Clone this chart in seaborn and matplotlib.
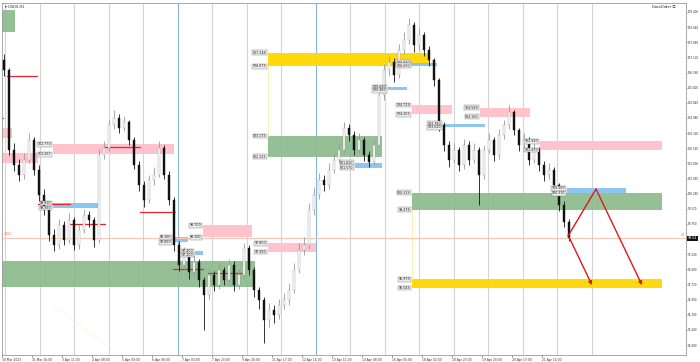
import matplotlib
matplotlib.use("Agg")
import matplotlib.pyplot as plt
import numpy as np
import pandas as pd
import seaborn as sns

# ---------------- data ----------------
first_open = 106.99
closes = [106.49, 102.47, 101.72, 101.22, 101.97, 102.97, 101.47, 100.21, 99.46, 98.20,
          97.70, 98.70, 97.95, 98.96, 97.70, 98.45, 99.21, 98.96, 97.95, 102.22,
          102.57, 103.73, 104.08, 103.57, 103.88, 102.97, 101.72, 100.71, 99.96, 100.96,
          101.22, 102.57, 101.22, 99.96, 97.70, 96.70, 97.20, 96.35, 96.85, 95.94,
          95.19, 96.19, 95.69, 96.45, 95.94, 96.70, 95.69, 96.19, 97.55, 96.45,
          95.44, 94.94, 93.94, 94.44, 94.19, 94.69, 94.94, 95.44, 96.45, 97.45,
          97.70, 99.46, 100.21, 100.96, 100.71, 101.47, 101.97, 102.47, 103.57, 103.22,
          102.47, 102.97, 102.22, 101.87, 102.72, 105.23, 106.49, 106.89, 106.24, 107.49,
          107.99, 108.75, 107.74, 108.24, 107.49, 106.99, 105.98, 103.73, 102.72, 101.97,
          102.47, 101.72, 102.72, 101.97, 102.47, 101.22, 102.47, 102.97, 102.22, 103.22,
          103.73, 104.38, 103.47, 102.72, 102.97, 101.97, 102.47, 101.72, 101.22, 101.47,
          100.71, 99.71, 98.86, 98.04]
highs = [107.30, 106.60, 102.80, 102.00, 102.30, 103.30, 103.10, 101.70, 100.50, 99.60,
         98.50, 99.00, 98.90, 99.30, 99.10, 98.70, 99.50, 99.40, 99.10, 102.50,
         102.90, 104.00, 104.50, 104.30, 104.20, 104.00, 103.10, 101.90, 100.90, 101.20,
         101.60, 102.90, 102.70, 101.40, 100.10, 97.90, 97.60, 97.40, 97.20, 97.00,
         96.10, 96.50, 96.40, 96.80, 96.60, 97.00, 96.90, 96.50, 97.80, 97.70,
         96.60, 95.60, 95.10, 94.80, 94.70, 95.00, 95.30, 95.80, 96.80, 97.80,
         98.10, 99.80, 100.60, 101.30, 101.20, 101.80, 102.30, 102.80, 103.90, 103.80,
         103.40, 103.30, 103.10, 102.40, 103.00, 105.60, 106.80, 107.20, 107.10, 107.80,
         108.40, 109.10, 108.90, 108.60, 108.40, 107.70, 107.10, 106.10, 103.90, 102.90,
         102.80, 102.60, 103.00, 102.90, 102.80, 102.60, 102.70, 103.30, 103.10, 103.50,
         104.00, 104.73, 104.50, 103.60, 103.30, 103.10, 102.80, 102.60, 101.90, 101.80,
         101.60, 100.80, 99.90, 99.00]
lows = [106.20, 102.20, 101.40, 100.90, 101.00, 101.80, 101.20, 99.90, 99.20, 97.90,
        97.40, 97.50, 97.70, 97.80, 97.45, 97.50, 98.30, 98.60, 97.60, 97.80,
        102.00, 102.40, 103.50, 103.30, 103.40, 102.70, 101.50, 100.40, 99.60, 99.80,
        100.70, 101.10, 101.00, 99.70, 97.40, 96.40, 96.50, 96.00, 96.10, 95.60,
        93.43, 95.00, 95.40, 95.50, 95.70, 95.80, 95.40, 95.50, 96.00, 96.20,
        95.10, 94.50, 92.78, 93.60, 93.80, 94.00, 94.50, 94.70, 95.30, 96.30,
        97.20, 97.50, 99.20, 100.00, 100.40, 100.50, 101.30, 101.80, 102.30, 102.90,
        102.20, 102.30, 101.90, 101.60, 101.70, 102.60, 105.00, 106.20, 105.90, 106.10,
        107.30, 107.80, 107.40, 107.50, 107.20, 106.70, 105.70, 103.40, 102.40, 101.60,
        101.80, 101.40, 101.50, 101.70, 101.80, 99.71, 101.00, 102.30, 101.90, 102.00,
        103.00, 103.50, 103.20, 102.40, 102.50, 101.70, 101.80, 101.40, 100.90, 101.00,
        100.40, 99.40, 98.60, 97.90]

date_labels = ["30 Mar 2023", "31 Mar 16:00", "3 Apr 11:00", "4 Apr 08:00", "5 Apr 09:00",
               "6 Apr 06:00", "7 Apr 03:00", "7 Apr 23:00", "9 Apr 20:00", "11 Apr 17:00",
               "12 Apr 14:00", "13 Apr 11:00", "14 Apr 08:00", "16 Apr 05:00", "18 Apr 02:00",
               "18 Apr 23:00", "19 Apr 20:00", "20 Apr 17:00", "21 Apr 14:00"]
price_ticks = ["92.680", "93.440", "94.200", "94.960", "95.720", "96.480", "97.240", "98.000",
               "98.760", "99.520", "100.280", "101.040", "101.800", "102.560", "103.320",
               "104.080", "104.840", "105.600", "106.360", "107.120", "107.880", "108.640",
               "109.400"]

# zones: kind, x0, x1 (bar index), top, bottom, show labels
zone_kind = ["green", "pink", "pink", "pink", "blue", "blue", "blue", "pink", "green",
             "pink", "gold", "green", "blue", "blue", "blue", "pink", "blue", "pink",
             "pink", "green", "blue", "gold"]
zone_x0 = [-0.8, -0.8, -0.8, 9.8, 9.8, 33.8, 38.2, 39.8, -0.8,
           52.8, 52.8, 52.8, 70.2, 81.6, 76.8, 81.6, 87.8, 95.2,
           107.2, 81.6, 112.6, 81.6]
zone_x1 = [2.2, 1.6, 6.8, 34.0, 19.2, 36.8, 39.8, 49.6, 50.2,
           62.4, 85.2, 75.6, 75.6, 86.6, 80.6, 89.6, 96.2, 105.2,
           131.6, 131.6, 124.4, 131.6]
zone_top = [109.50, 103.57, 102.32, 102.770, 99.810, 98.100, 97.400, 98.700, 96.900,
            97.800, 107.348, 103.173, 101.820, 106.840, 105.630, 104.729, 103.780, 104.589,
            102.920, 100.319, 100.560, 95.979]
zone_bot = [108.39, 103.07, 101.82, 102.267, 99.560, 97.850, 97.200, 98.100, 95.590,
            97.350, 106.673, 102.133, 101.570, 106.690, 105.480, 104.263, 103.620, 104.150,
            102.470, 99.478, 100.310, 95.543]
zone_labeled = [False, False, False, True, True, True, True, True, False,
                True, True, True, True, True, True, True, True, True,
                True, True, True, True]

# red horizontal levels
level_x0 = [0.6, 6.8, 13.2, 20.2, 27.2, 33.8, 40.8, -0.8]
level_x1 = [6.6, 13.2, 20.2, 27.2, 34.2, 39.8, 47.8, -0.2]
level_price = [106.18, 99.76, 98.76, 102.62, 99.36, 96.50, 96.30, 104.08]

bid_price = 98.04

# projection paths (bar index, price)
path_a_x = [112.8, 118.4, 127.6]
path_a_y = [98.15, 100.51, 95.69]
path_b_x = [113.0, 117.6]
path_b_y = [98.10, 95.69]

# ---------------- style ----------------
sns.set_theme(style="white")
plt.rcParams["font.family"] = ["DejaVu Sans", "Noto Sans CJK SC"]

colors = {"green": "#8fbc8f", "pink": "#ffc0cb", "blue": "#87c3f0", "gold": "#ffd700"}

fig = plt.figure(figsize=(7.0, 3.62), dpi=100)
ax = fig.add_axes([2 / 700, 1 - 355 / 362, 684 / 700, 352 / 362])
ax.set_facecolor("white")

xmin, xmax = -0.4, 136.4
ymin, ymax = 92.18, 109.85
ax.set_xlim(xmin, xmax)
ax.set_ylim(ymin, ymax)

# vertical grid
for k in range(18):
    gx = 0.2 + 6.9 * k
    col = "#86b4e6" if k in (5, 9) else "#d4d4d4"
    ax.axvline(gx, color=col, lw=0.8, zorder=0)

# zones
for kind, x0, x1, t, b in zip(zone_kind, zone_x0, zone_x1, zone_top, zone_bot):
    ax.add_patch(plt.Rectangle((x0, b), x1 - x0, t - b, facecolor=colors[kind],
                               edgecolor="none", alpha=0.95, zorder=1))

# faint connector lines
ax.plot([52.8, 52.8], [106.673, 103.173], color="#fbeea8", lw=0.6, zorder=1)
ax.plot([81.6, 81.6], [99.478, 95.979], color="#fbeea8", lw=0.6, zorder=1)
ax.plot([10.2, 23.6], [94.59, 92.08], color="#f6e7a0", lw=0.6, ls=":", zorder=1)

# red levels
for x0, x1, p in zip(level_x0, level_x1, level_price):
    ax.plot([x0, x1], [p, p], color="#e8262a", lw=0.9, zorder=2)

# bid line
ax.axhline(bid_price, color="#f8c4b4", lw=0.8, zorder=1)

# candles
df = pd.DataFrame({"close": closes, "high": highs, "low": lows})
df["open"] = [first_open] + closes[:-1]
df["i"] = np.arange(len(df))
up = df["close"] >= df["open"]
wick_col = np.where(up, "#9a9a9a", "#111111")
ax.vlines(df["i"], df["low"], df["high"], colors=wick_col, lw=0.6, zorder=3)
body_bot = np.minimum(df["open"], df["close"])
body_h = np.abs(df["close"] - df["open"])
ax.bar(df["i"], body_h, bottom=body_bot, width=0.45,
       color=np.where(up, "#ffffff", "#111111"),
       edgecolor=np.where(up, "#9a9a9a", "#111111"), linewidth=0.3, zorder=4)

# zone labels
lab_kw = dict(fontsize=2.3, ha="right", va="center", color="#222222", zorder=6,
              bbox=dict(boxstyle="square,pad=0.15", fc="#ececec", ec="#7a7a7a", lw=0.3))
for x0, t, b, show in zip(zone_x0, zone_top, zone_bot, zone_labeled):
    if show:
        ax.text(x0 - 0.3, t, f"{t:.3f}", **lab_kw)
        ax.text(x0 - 0.3, b, f"{b:.3f}", **lab_kw)

# projection arrows
ax.plot(path_a_x[:2], path_a_y[:2], color="#e3161b", lw=1.0, zorder=7)
ax.annotate("", xy=(path_a_x[2], path_a_y[2]), xytext=(path_a_x[1], path_a_y[1]),
            arrowprops=dict(arrowstyle="-|>", color="#e3161b", lw=1.0,
                            mutation_scale=5, shrinkA=0, shrinkB=0), zorder=7)
ax.annotate("", xy=(path_b_x[1], path_b_y[1]), xytext=(path_b_x[0], path_b_y[0]),
            arrowprops=dict(arrowstyle="-|>", color="#e3161b", lw=1.0,
                            mutation_scale=5, shrinkA=0, shrinkB=0), zorder=7)

# axes: right price scale (the 98.000 label sits under the bid price box)
ax.yaxis.tick_right()
ax.set_yticks([float(s) for s in price_ticks])
ax.set_yticklabels(["" if s == "98.000" else s for s in price_ticks])
ax.tick_params(axis="y", which="both", right=True, length=1.0, width=0.4, pad=0.6,
               labelsize=2.0, colors="#333333")

# time scale
tick_pos = [(30 * k - 2) / 5 for k in range(len(date_labels))]
ax.set_xticks(tick_pos)
ax.set_xticklabels(date_labels)
for lab in ax.get_xticklabels():
    lab.set_horizontalalignment("left")
ax.tick_params(axis="x", which="both", bottom=True, length=1.2, width=0.4, pad=0.8,
               labelsize=2.2, colors="#333333")

for s in ax.spines.values():
    s.set_color("#9a9a9a")
    s.set_linewidth(0.6)

# header texts
ax.text(0.004, 0.994, "\u25be USDX,H1", transform=ax.transAxes, fontsize=2.6,
        ha="left", va="top", color="#222222")
ax.text(0.985, 0.994, "DataOrder \u24d8", transform=ax.transAxes, fontsize=2.6,
        ha="right", va="top", color="#222222")
ax.text(0.002, bid_price + 0.12, "4050", fontsize=2.3, ha="left", va="bottom",
        color="#f07050", transform=ax.get_yaxis_transform())
ax.text(0.998, bid_price + 0.05, "48", fontsize=2.3, ha="right", va="bottom",
        color="#f07050", transform=ax.get_yaxis_transform())
ax.text(1.003, bid_price, f"{bid_price:.2f}", fontsize=2.3, ha="left", va="center",
        color="white", transform=ax.get_yaxis_transform(), zorder=8,
        bbox=dict(boxstyle="square,pad=0.2", fc="#111111", ec="none"), clip_on=False)

fig.savefig("out.png", dpi=100, facecolor="white")
